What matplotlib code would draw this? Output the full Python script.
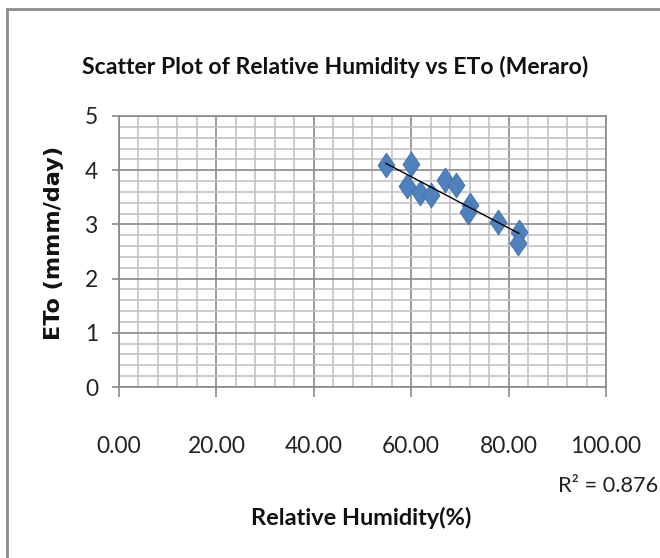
import matplotlib
matplotlib.use("Agg")
import matplotlib.pyplot as plt
import numpy as np
from matplotlib.path import Path
from matplotlib.lines import Line2D
from matplotlib.ticker import MultipleLocator, FormatStrFormatter

# ---- data ----
humidity = [54.8, 60.0, 59.1, 61.8, 64.1, 67.0, 69.2, 72.1, 71.7, 77.8, 82.1, 82.0]
eto = [4.10, 4.12, 3.71, 3.58, 3.54, 3.82, 3.73, 3.36, 3.23, 3.04, 2.86, 2.66]
r2_text = "R\u00b2 = 0.876"
title = "Scatter Plot of Relative Humidity vs ETo (Meraro)"
xlabel = "Relative Humidity(%)"
ylabel = "ETo (mmm/day)"

FONT = ["Lato", "DejaVu Sans"]

fig = plt.figure(figsize=(6.6, 5.58), dpi=100)
ax = fig.add_axes([119/660, 1-387/558, (606-119)/660, (387-116)/558])
renderer = fig.canvas.get_renderer()


def size_for(s, target_px, family, weight="normal", boost=1.0):
    """font size at which string s spans target_px pixels"""
    probe = fig.text(0, 0, s, family=family, fontsize=16, fontweight=weight)
    w = probe.get_window_extent(renderer).width
    probe.remove()
    return 16 * target_px / w * boost


ax.set_xlim(0, 100)
ax.set_ylim(0, 5)
ax.xaxis.set_major_locator(MultipleLocator(20))
ax.xaxis.set_minor_locator(MultipleLocator(4))
ax.yaxis.set_major_locator(MultipleLocator(1))
ax.yaxis.set_minor_locator(MultipleLocator(0.2))
ax.grid(which="minor", color="#c4c4c4", linewidth=1.2)
ax.grid(which="major", color="#8a8a8a", linewidth=1.2)
ax.set_axisbelow(True)
for s in ax.spines.values():
    s.set_color("#8a8a8a")
    s.set_linewidth(1.2)

ax.xaxis.set_major_formatter(FormatStrFormatter("%.2f"))
ax.yaxis.set_major_formatter(FormatStrFormatter("%d"))
ax.tick_params(axis="x", which="major", length=7, width=1.2, color="#8a8a8a", pad=28)
ax.tick_params(axis="y", which="major", length=5, width=1.2, color="#8a8a8a", pad=10)
ax.tick_params(which="minor", length=0)

tick_fs = size_for("100.00", 65, FONT, boost=1.1)
for lab in ax.get_xticklabels() + ax.get_yticklabels():
    lab.set_family(FONT)
    lab.set_fontsize(tick_fs)
    lab.set_color("#222222")

# diamond marker (taller than wide)
diamond = Path([(0, 1), (0.68, 0), (0, -1), (-0.68, 0), (0, 1)],
               [Path.MOVETO, Path.LINETO, Path.LINETO, Path.LINETO, Path.CLOSEPOLY])
ax.scatter(humidity, eto, marker=diamond, s=320, color="#4f81bd",
           edgecolor="#3f71ad", linewidth=0.6, zorder=3)

# linear trendline
x = np.array(humidity)
y = np.array(eto)
k, b = np.polyfit(x, y, 1)
xs = np.array([x.min(), x.max()])
ax.plot(xs, k*xs + b, color="black", linewidth=1.0, zorder=4)

# texts
fig.text(335/660, 1-67/558, title, ha="center", va="center",
         family=FONT, fontsize=size_for(title, 491, FONT, "bold", 1.03),
         fontweight="bold", color="#111111")
fig.text(361/660, 1-518/558, xlabel, ha="center", va="center",
         family=FONT, fontsize=size_for(xlabel, 208, FONT, "bold", 1.06),
         fontweight="bold", color="#111111")
fig.text(54/660, 1-243/558, ylabel, ha="center", va="center", rotation=90,
         rotation_mode="anchor",
         family=["DejaVu Sans"], fontsize=size_for(ylabel, 195, ["DejaVu Sans"], "bold"),
         fontweight="bold", color="#111111")
fig.text(608/660, 1-486/558, r2_text, ha="center", va="center",
         family=FONT, fontsize=size_for(r2_text, 97, FONT, boost=1.04), color="#222222")

# chart area border (top and left visible)
fig.add_artist(Line2D([7/660, 7/660], [0, 1-9/558], transform=fig.transFigure,
                      color="#8c8c8c", linewidth=2))
fig.add_artist(Line2D([7/660, 1], [1-9/558, 1-9/558], transform=fig.transFigure,
                      color="#8c8c8c", linewidth=2))

fig.savefig("out.png", dpi=100)
